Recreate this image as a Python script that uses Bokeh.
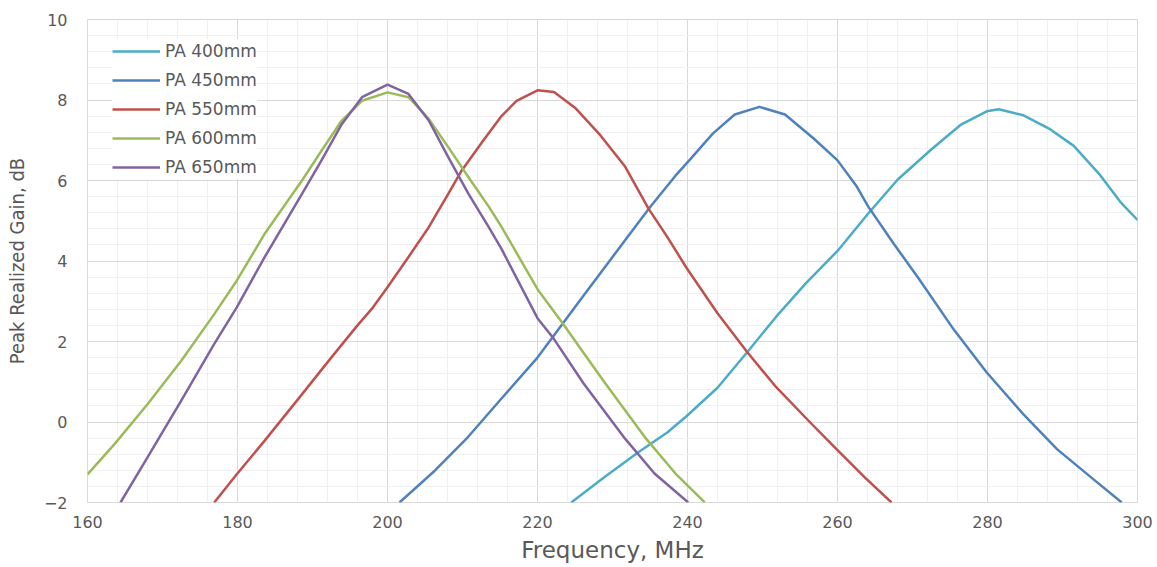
from bokeh.plotting import figure
from bokeh.models import SingleIntervalTicker, Legend, LegendItem, Range1d
from bokeh.embed import file_html
from bokeh.resources import INLINE

# PA 400mm
f400 = [224.5, 228.9, 233.4, 237.3, 239.9, 244.0, 247.9, 251.8, 255.8, 260.0, 264.1, 268.0, 272.5,
        276.4, 279.9, 281.5, 284.8, 288.2, 291.5, 294.9, 297.7, 300.0]
g400 = [-2.0, -1.37, -0.76, -0.26, 0.15, 0.85, 1.72, 2.61, 3.45, 4.25, 5.18, 6.02, 6.77,
        7.38, 7.72, 7.77, 7.62, 7.29, 6.86, 6.16, 5.47, 5.02]
# PA 450mm
f450 = [201.6, 206.3, 210.7, 215.0, 220.0, 226.1, 231.7, 235.1, 238.4, 240.0, 243.4, 246.3, 249.6,
        253.0, 256.9, 260.0, 262.5, 264.1, 267.5, 270.8, 275.3, 279.9, 284.8, 289.3, 294.3, 297.9]
g450 = [-2.0, -1.21, -0.38, 0.54, 1.6, 3.13, 4.52, 5.36, 6.12, 6.45, 7.17, 7.64, 7.83,
        7.64, 7.03, 6.5, 5.87, 5.35, 4.43, 3.57, 2.35, 1.23, 0.19, -0.68, -1.45, -2.0]
# PA 550mm
f550 = [176.9, 179.9, 183.6, 188.0, 192.5, 196.0, 197.9, 200.0, 202.8, 205.5, 208.1, 209.9, 212.6,
        215.2, 217.2, 220.0, 222.2, 225.0, 228.4, 231.7, 234.8, 237.3, 239.9, 244.0, 247.9, 251.8,
        256.3, 260.0, 263.6, 267.2]
g550 = [-2.0, -1.3, -0.47, 0.55, 1.6, 2.4, 2.81, 3.35, 4.1, 4.84, 5.67, 6.25, 6.95,
        7.6, 7.98, 8.24, 8.2, 7.81, 7.12, 6.34, 5.3, 4.6, 3.82, 2.7, 1.75, 0.87,
        0.0, -0.7, -1.37, -2.0]
# PA 600mm
f600 = [160.0, 163.6, 168.0, 172.5, 176.9, 179.9, 183.6, 188.6, 191.2, 193.9, 196.6, 200.0, 202.8,
        205.5, 208.1, 210.8, 213.5, 215.2, 220.0, 223.4, 226.2, 229.0, 234.5, 238.4, 242.3]
g600 = [-1.3, -0.55, 0.44, 1.52, 2.68, 3.51, 4.67, 6.0, 6.74, 7.49, 7.98, 8.19, 8.07,
        7.53, 6.83, 6.08, 5.35, 4.85, 3.3, 2.44, 1.7, 0.97, -0.42, -1.28, -2.0]
# PA 650mm
f650 = [164.4, 168.0, 172.5, 176.9, 179.9, 183.6, 188.6, 191.2, 193.9, 196.6, 200.0, 202.8,
        205.5, 208.1, 210.8, 213.5, 215.2, 220.0, 222.2, 226.1, 231.7, 235.6, 240.1]
g650 = [-2.0, -0.88, 0.53, 1.94, 2.85, 4.09, 5.67, 6.5, 7.4, 8.07, 8.38, 8.15,
        7.49, 6.58, 5.67, 4.84, 4.3, 2.58, 2.06, 0.97, -0.42, -1.28, -2.0]

series = [
    ("PA 400mm", f400, g400, "#4BACC6"),
    ("PA 450mm", f450, g450, "#4F81BD"),
    ("PA 550mm", f550, g550, "#C0504D"),
    ("PA 600mm", f600, g600, "#9BBB59"),
    ("PA 650mm", f650, g650, "#8064A2"),
]

p = figure(width=1157, height=567, output_backend="svg", toolbar_location=None,
           x_range=Range1d(160, 300), y_range=Range1d(-2, 10),
           min_border_left=87, min_border_right=20, min_border_top=19, min_border_bottom=65,
           x_axis_label="Frequency, MHz", y_axis_label="Peak Realized Gain, dB")

p.background_fill_color = "white"
p.border_fill_color = "white"
p.outline_line_color = "#D9D9D9"
p.outline_line_width = 1

p.xaxis.ticker = SingleIntervalTicker(interval=20, num_minor_ticks=5)
p.yaxis.ticker = SingleIntervalTicker(interval=2, num_minor_ticks=5)
for g in (p.xgrid, p.ygrid):
    g.grid_line_color = "#D9D9D9"
    g.grid_line_width = 1
    g.minor_grid_line_color = "#F0F0F0"
    g.minor_grid_line_width = 1

for ax in (p.xaxis, p.yaxis):
    ax.axis_line_color = None
    ax.major_tick_out = 0
    ax.major_tick_in = 0
    ax.minor_tick_out = 0
    ax.minor_tick_in = 0
    ax.major_label_text_color = "#595959"
    ax.major_label_text_font = "DejaVu Sans"
    ax.major_label_text_font_size = "16px"
    ax.axis_label_text_color = "#595959"
    ax.axis_label_text_font_style = "normal"

p.xaxis.major_label_standoff = 13
p.yaxis.major_label_standoff = 20
p.xaxis.axis_label_text_font = "DejaVu Sans"
p.xaxis.axis_label_text_font_size = "23px"
p.xaxis.axis_label_standoff = 6
p.yaxis.axis_label_text_font = "Liberation Sans Narrow, DejaVu Sans Condensed, sans-serif"
p.yaxis.axis_label_text_font_size = "20px"
p.yaxis.axis_label_standoff = 12

items = []
for name, xs, ys, col in series:
    r = p.line(xs, ys, line_color=col, line_width=2.5, line_join="round")
    items.append(LegendItem(label=name, renderers=[r]))

legend = Legend(items=items, location=(25, 323), margin=0, padding=8,
                glyph_width=48, glyph_height=24, spacing=5, label_standoff=5,
                label_text_font="DejaVu Sans", label_text_font_size="17px",
                label_text_color="#595959", border_line_color=None,
                background_fill_color="white", background_fill_alpha=1.0)
p.add_layout(legend)

open("out.html", "w").write(file_html(p, INLINE))
